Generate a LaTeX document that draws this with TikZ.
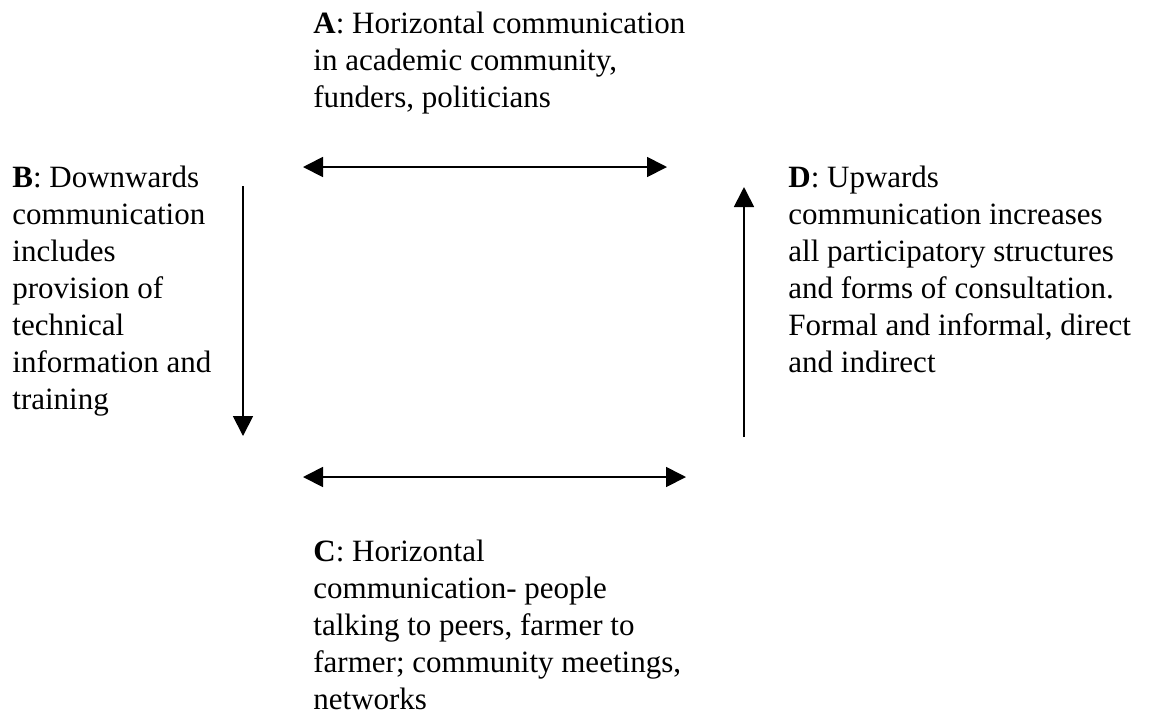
\documentclass[tikz,border=0pt]{standalone}
\usepackage{fontspec}
\setmainfont{Liberation Serif}
\usetikzlibrary{arrows.meta}
\tikzset{
  flowlabel/.style={anchor=north west,inner sep=0pt,align=left,
    font=\fontsize{15.5}{18.5}\selectfont},
  flowarrow/.style={line width=0.9pt,-{Triangle[length=10pt,width=10pt]}},
  twowayarrow/.style={line width=0.9pt,{Triangle[length=10pt,width=10pt]}-{Triangle[length=10pt,width=10pt]}}
}
\begin{document}
\begin{tikzpicture}[x=0.5pt,y=-0.5pt]
\useasboundingbox (0,0) rectangle (1152,720);
% texts (north west corner = first baseline minus one strut height)
\node (labA) [flowlabel] at (313,7) {\strut\textbf{A}: Horizontal communication\\
in academic community,\\
funders, politicians};
\node (labB) [flowlabel] at (12,161) {\strut\textbf{B}: Downwards\\
communication\\
includes\\
provision of\\
technical\\
information and\\
training};
\node (labD) [flowlabel] at (788,161) {\strut\textbf{D}: Upwards\\
communication increases\\
all participatory structures\\
and forms of consultation.\\
Formal and informal, direct\\
and indirect};
\node (labC) [flowlabel] at (313,535) {\strut\textbf{C}: Horizontal\\
communication- people\\
talking to peers, farmer to\\
farmer; community meetings,\\
networks};
% arrows
\coordinate (topL) at (303,167);
\coordinate (topR) at (667,167);
\coordinate (botL) at (303,477);
\coordinate (botR) at (686,477);
\coordinate (downS) at (243,186);
\coordinate (downE) at (243,436);
\coordinate (upS) at (744,437);
\coordinate (upE) at (744,187);
\draw [twowayarrow] (topL) -- (topR);
\draw [twowayarrow] (botL) -- (botR);
\draw [flowarrow] (downS) -- (downE);
\draw [flowarrow] (upS) -- (upE);
\end{tikzpicture}
\end{document}
